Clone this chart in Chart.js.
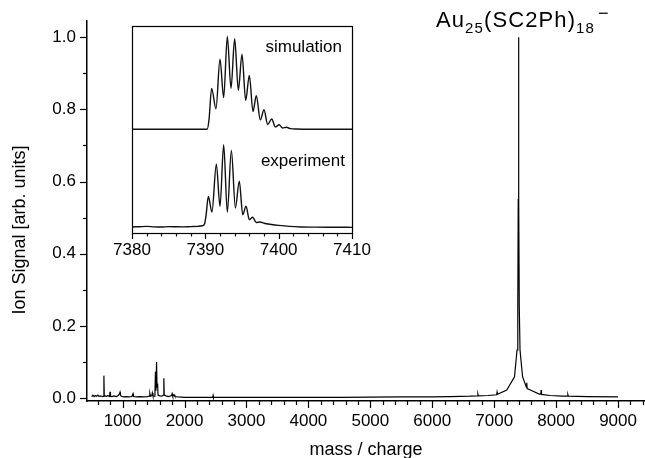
<!DOCTYPE html>
<html>
<head>
<meta charset="utf-8">
<script src="https://cdn.jsdelivr.net/npm/chart.js@4.4.1/dist/chart.umd.min.js"></script>
<style>
  body { margin: 0; background: #fff; overflow: hidden; }
  #wrap { position: relative; width: 645px; height: 458px; }
  #mainChart { position: absolute; left: 0; top: 0; }
  #insetChart { position: absolute; left: 100px; top: 10px; }
  #peakLabel {
    position: absolute; left: 436px; top: 8px;
    font: 22px 'Liberation Sans', Arial, sans-serif; line-height: 24px;
    letter-spacing: 1.1px; white-space: nowrap; color: #000;
  }
  #peakLabel .sub { font-size: 15px; position: relative; top: 6px; }
  #peakLabel .sup { font-size: 18px; position: relative; top: -8px; margin-left: 3px; }
</style>
</head>
<body>
<div id="wrap">
  <canvas id="mainChart" width="645" height="458"></canvas>
  <canvas id="insetChart" width="280" height="262"></canvas>
  <div id="peakLabel">Au<span class="sub">25</span>(SC2Ph)<span class="sub">18</span><span class="sup">−</span></div>
</div>
<script>
// full spectrum
const spectrumMass = [
  500, 520, 540, 560, 580, 600, 620, 640, 660, 680, 692, 698, 704, 720, 740, 760,
  790, 797, 804, 830, 860, 900, 930, 950, 958, 965, 980, 1020, 1060, 1100, 1150,
  1168, 1176, 1220, 1280, 1340, 1400, 1430, 1440, 1450, 1470, 1480, 1490, 1510,
  1522, 1530, 1538, 1548, 1556, 1565, 1572, 1600, 1630, 1660, 1666, 1672, 1700,
  1740, 1790, 1800, 1810, 1830, 1845, 1900, 2000, 2200, 2455, 2461, 2467, 2800,
  3500, 4500, 5500, 6000, 6300, 6600, 6730, 6737, 6744, 6900, 7040, 7046, 7052,
  7203, 7328, 7369, 7381, 7388, 7393, 7398, 7405, 7417, 7458, 7520, 7526, 7532,
  7583, 7728, 7752, 7758, 7764, 7900, 8100, 8185, 8190, 8196, 8500, 9000
];
const spectrumSignal = [
  0.004, 0.008, 0.004, 0.007, 0.005, 0.008, 0.004, 0.006, 0.005, 0.004, 0.005, 0.062, 0.005, 0.006, 0.004, 0.007,
  0.004, 0.017, 0.005, 0.004, 0.006, 0.004, 0.007, 0.012, 0.016, 0.008, 0.005, 0.003, 0.004, 0.003, 0.004,
  0.012, 0.004, 0.003, 0.004, 0.003, 0.004, 0.005, 0.013, 0.005, 0.006, 0.014, 0.006, 0.005,
  0.008, 0.073, 0.020, 0.100, 0.030, 0.040, 0.008, 0.006, 0.005, 0.008, 0.055, 0.008, 0.006,
  0.004, 0.007, 0.012, 0.005, 0.009, 0.004, 0.003, 0.002, 0.002, 0.002, 0.007, 0.002, 0.002,
  0.002, 0.002, 0.003, 0.003, 0.004, 0.005, 0.006, 0.011, 0.006, 0.007, 0.009, 0.016, 0.010,
  0.022, 0.059, 0.133, 0.25, 0.55, 1.0, 0.55, 0.25, 0.133, 0.059, 0.030, 0.042, 0.026,
  0.022, 0.011, 0.011, 0.022, 0.010, 0.007, 0.005, 0.005, 0.009, 0.005, 0.004, 0.003
];

// inset: isotope pattern, simulated and measured
const simMass = [
  7380, 7390.25, 7390.5, 7390.86, 7391.45, 7392.0, 7392.5, 7393.0, 7393.5, 7394.0,
  7394.5, 7395.0, 7395.5, 7396.0, 7396.5, 7396.95, 7397.5, 7398.0, 7398.5, 7399.05,
  7399.55, 7400.05, 7400.55, 7401.05, 7401.6, 7402.5, 7404, 7410
];
const simSignal = [
  0, 0, 0.10, 0.44, 0.22, 0.755, 0.34, 1.0, 0.44, 0.975,
  0.42, 0.81, 0.31, 0.58, 0.19, 0.36, 0.10, 0.21, 0.05, 0.11,
  0.025, 0.047, 0.012, 0.02, 0.006, 0.002, 0, 0
];
const expMass = [
  7380, 7381, 7382, 7383, 7384, 7385, 7386, 7387, 7388, 7389, 7389.6, 7389.9, 7390.1,
  7390.41, 7390.9, 7391.5, 7392.0, 7392.5, 7393.0, 7393.55, 7394.1, 7394.63, 7395.1,
  7395.55, 7396.0, 7396.45, 7396.95, 7397.45, 7398.0, 7399.0, 7400.0, 7401.5, 7403,
  7405, 7407, 7410
];
const expSignal = [
  0.005, 0.008, 0.011, 0.006, 0.004, 0.009, 0.007, 0.006, 0.009, 0.012, 0.018, 0.04, 0.13,
  0.335, 0.165, 0.683, 0.227, 0.892, 0.165, 0.83, 0.21, 0.50, 0.137,
  0.23, 0.083, 0.11, 0.054, 0.058, 0.045, 0.032, 0.022, 0.011, 0.005,
  0.003, 0.002, 0.001
];
const simOffset = 1.06;

const xTickLabels = [1000, 2000, 3000, 4000, 5000, 6000, 7000, 8000, 9000];
const yTickLabels = [0, 0.2, 0.4, 0.6, 0.8, 1.0];
const insetTickLabels = [7380, 7390, 7400, 7410];

Chart.defaults.font.family = "'Liberation Sans', Arial, sans-serif";
Chart.defaults.color = '#000';

function isLabel(list, v) {
    return list.some(function(t) { return Math.abs(t - v) < 1e-6; });
}

// outward tick marks, long on labelled ticks and short on the others
function tickMarks(major, minor) {
    return {
        id: 'tickMarks',
        afterDraw(chart) {
            let ctx = chart.ctx;
            ctx.save();
            ctx.strokeStyle = '#000';
            ctx.lineWidth = 1.2;
            let xs = chart.scales.x;
            xs.ticks.forEach(function(t) {
                let px = Math.round(xs.getPixelForValue(t.value)) + 0.5;
                let len = t.label !== '' ? major : minor;
                ctx.beginPath();
                ctx.moveTo(px, xs.top);
                ctx.lineTo(px, xs.top + len);
                ctx.stroke();
            });
            let ys = chart.scales.y;
            if (ys.options.display) {
                ys.ticks.forEach(function(t) {
                    let py = Math.round(ys.getPixelForValue(t.value)) + 0.5;
                    let len = t.label !== '' ? major : minor;
                    ctx.beginPath();
                    ctx.moveTo(ys.right - len, py);
                    ctx.lineTo(ys.right, py);
                    ctx.stroke();
                });
            }
            ctx.restore();
        }
    };
}

const axisTitles = {
    id: 'axisTitles',
    afterDraw(chart) {
        let ctx = chart.ctx;
        ctx.save();
        ctx.fillStyle = '#000';
        ctx.font = "18px 'Liberation Sans', Arial, sans-serif";
        ctx.textAlign = 'center';
        ctx.textBaseline = 'alphabetic';
        let area = chart.chartArea;
        ctx.fillText('mass / charge', (area.left + area.right) / 2, 455);
        ctx.translate(25, 230);
        ctx.rotate(-Math.PI / 2);
        ctx.fillText('Ion Signal [arb. units]', 0, 0);
        ctx.restore();
    }
};

const insetFrame = {
    id: 'insetFrame',
    beforeDraw(chart) {
        let a = chart.chartArea;
        chart.ctx.save();
        chart.ctx.fillStyle = '#fff';
        chart.ctx.fillRect(a.left, a.top, a.right - a.left, a.bottom - a.top);
        chart.ctx.restore();
    },
    afterDraw(chart) {
        let ctx = chart.ctx;
        let a = chart.chartArea;
        ctx.save();
        ctx.strokeStyle = '#000';
        ctx.lineWidth = 1.2;
        ctx.strokeRect(Math.round(a.left) + 0.5, Math.round(a.top) + 0.5,
                       Math.round(a.right - a.left), Math.round(a.bottom - a.top));
        ctx.fillStyle = '#000';
        ctx.font = "17px 'Liberation Sans', Arial, sans-serif";
        ctx.textAlign = 'right';
        ctx.fillText('simulation', a.right - 10, 42);
        ctx.fillText('experiment', a.right - 7, 156);
        ctx.restore();
    }
};

function makeMainChart() {
    let ctx = document.getElementById('mainChart').getContext('2d');
    let points = spectrumMass.map(function(m, i) { return {x: m, y: spectrumSignal[i]}; });
    new Chart(ctx, {
        type: 'line',
        data: {
            datasets: [{
                data: points,
                borderColor: '#000',
                borderWidth: 1.2,
                pointRadius: 0,
                tension: 0
            }]
        },
        options: {
            responsive: false,
            animation: false,
            devicePixelRatio: 1,
            layout: { padding: { top: 21, right: 0, left: 0, bottom: 0 } },
            plugins: { legend: { display: false }, tooltip: { enabled: false } },
            scales: {
                x: {
                    type: 'linear',
                    min: 425,
                    max: 9435,
                    grid: { display: false, drawTicks: false },
                    border: { color: '#000', width: 1.5 },
                    ticks: {
                        autoSkip: false,
                        maxRotation: 0,
                        padding: 10,
                        font: { size: 17 },
                        callback: function(v) { return isLabel(xTickLabels, v) ? String(v) : ''; }
                    },
                    // minor ticks every 200 between the labelled thousands
                    afterBuildTicks: function(s) {
                        let t = [];
                        for (let v = 600; v <= 9400; v += 200) t.push({value: v});
                        s.ticks = t;
                    },
                    afterFit: function(s) { s.height = 57; s.paddingLeft = 0; s.paddingRight = 0; }
                },
                y: {
                    min: -0.0083,
                    max: 1.0443,
                    grid: { display: false, drawTicks: false },
                    border: { color: '#000', width: 1.5 },
                    ticks: {
                        stepSize: 0.1,
                        includeBounds: false,
                        autoSkip: false,
                        padding: 11,
                        font: { size: 17 },
                        callback: function(v) { return isLabel(yTickLabels, v) ? v.toFixed(1) : ''; }
                    },
                    afterFit: function(s) { s.width = 87; }
                }
            }
        },
        plugins: [tickMarks(7, 4), axisTitles]
    });
}

function makeInsetChart() {
    let ctx = document.getElementById('insetChart').getContext('2d');
    let simPoints = simMass.map(function(m, i) { return {x: m, y: simSignal[i] + simOffset}; });
    let expPoints = expMass.map(function(m, i) { return {x: m, y: expSignal[i]}; });
    new Chart(ctx, {
        type: 'line',
        data: {
            datasets: [
                { data: simPoints, borderColor: '#111', borderWidth: 1.4, pointRadius: 0, cubicInterpolationMode: 'monotone' },
                { data: expPoints, borderColor: '#111', borderWidth: 1.4, pointRadius: 0, cubicInterpolationMode: 'monotone' }
            ]
        },
        options: {
            responsive: false,
            animation: false,
            devicePixelRatio: 1,
            layout: { padding: { top: 16, right: 28, left: 32, bottom: 0 } },
            plugins: { legend: { display: false }, tooltip: { enabled: false } },
            scales: {
                x: {
                    type: 'linear',
                    min: 7380,
                    max: 7410,
                    grid: { display: false, drawTicks: false },
                    border: { display: false },
                    ticks: {
                        stepSize: 2,
                        autoSkip: false,
                        maxRotation: 0,
                        padding: 7,
                        font: { size: 17 },
                        callback: function(v) { return isLabel(insetTickLabels, v) ? String(v) : ''; }
                    },
                    afterFit: function(s) { s.height = 39; s.paddingLeft = 0; s.paddingRight = 0; }
                },
                y: {
                    display: false,
                    min: -0.06,
                    max: 2.173
                }
            }
        },
        plugins: [insetFrame, tickMarks(6, 3.5)]
    });
}

makeMainChart();
makeInsetChart();
</script>
</body>
</html>
